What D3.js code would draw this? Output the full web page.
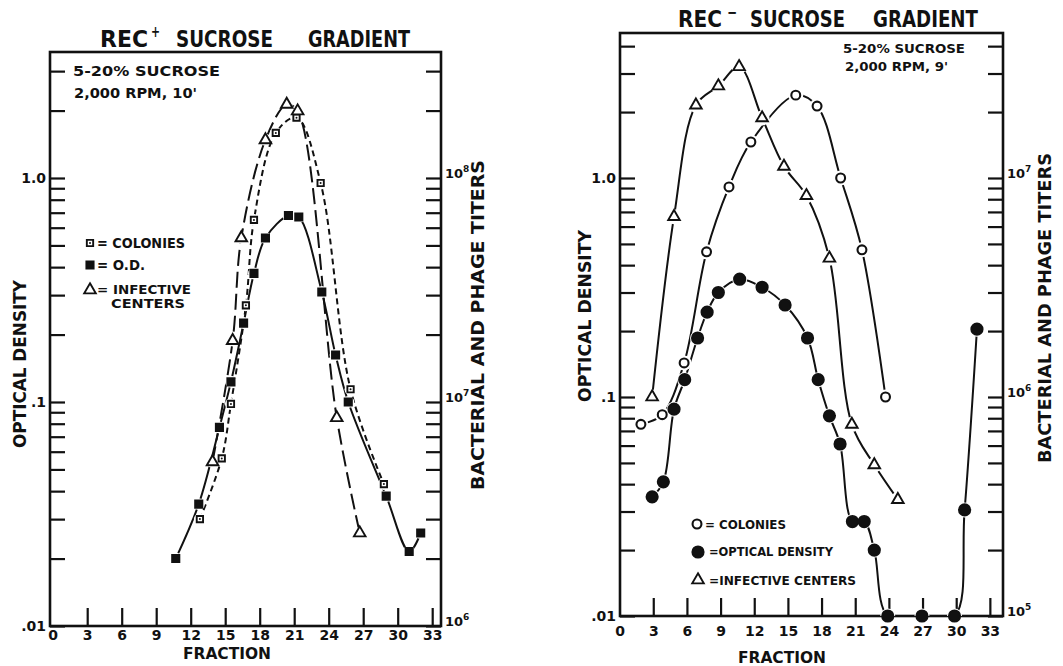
<!DOCTYPE html>
<html lang="en">
<head>
<meta charset="UTF-8">
<title>Rec sucrose gradients</title>
<style>
  body { margin: 0; background: #fff; }
  svg { display: block; }
  text { font-family: "DejaVu Sans", sans-serif; font-weight: bold; fill: #111; }
</style>
</head>
<body>
<script src="https://cdn.jsdelivr.net/npm/d3@7/dist/d3.min.js"></script>
<script>
var fractionTicks = [0, 3, 6, 9, 12, 15, 18, 21, 24, 27, 30, 33];
var odLabels = {1: '1.0', 0.1: '.1', 0.01: '.01'};
var recPlusTiterExp = [8, 7, 6];
var recMinusTiterExp = [7, 6, 5];

// REC+ gradient, [fraction, optical density scale value]
var recPlusColonies = [[12.8, 0.030], [14.7, 0.056], [15.5, 0.098], [16.8, 0.27], [17.5, 0.65],
  [19.4, 1.59], [21.2, 1.86], [23.3, 0.95], [25.9, 0.114], [28.8, 0.043]];
var recPlusOD = [[10.7, 0.020], [12.7, 0.035], [14.5, 0.077], [15.5, 0.123], [16.6, 0.225],
  [17.5, 0.375], [18.5, 0.54], [20.5, 0.68], [21.4, 0.67], [23.4, 0.31], [24.6, 0.162],
  [25.7, 0.10], [29.0, 0.038], [31.0, 0.0215], [32.0, 0.026]];
var recPlusInfective = [[13.9, 0.054], [15.65, 0.188], [16.4, 0.54], [18.5, 1.48], [20.35, 2.13],
  [21.3, 1.99], [24.7, 0.085], [26.7, 0.026]];

// REC- gradient
var recMinusColonies = [[1.9, 0.075], [3.8, 0.083], [5.75, 0.143], [7.75, 0.46], [9.75, 0.91],
  [11.7, 1.46], [15.7, 2.39], [17.6, 2.13], [19.7, 1.0], [21.6, 0.47], [23.7, 0.10]];
var recMinusOD = [[2.9, 0.035], [3.9, 0.041], [4.85, 0.088], [5.8, 0.12], [6.95, 0.186],
  [7.8, 0.244], [8.8, 0.30], [10.7, 0.345], [12.7, 0.317], [14.75, 0.263], [16.75, 0.186],
  [17.7, 0.12], [18.7, 0.082], [19.65, 0.061], [20.75, 0.027], [21.8, 0.027], [22.7, 0.020],
  [23.9, 0.01], [26.95, 0.01], [29.85, 0.01], [30.75, 0.0305], [31.85, 0.204]];
var recMinusInfective = [[2.9, 0.10], [4.85, 0.666], [6.8, 2.15], [8.8, 2.63], [10.65, 3.22],
  [12.7, 1.88], [14.65, 1.13], [16.65, 0.83], [18.7, 0.43], [20.7, 0.075], [22.7, 0.049],
  [24.8, 0.034]];

var W = 1063, H = 666;
var svg = d3.select('body').append('svg').attr('width', W).attr('height', H);

function logTicks(top) {
  var t = [];
  [0.01, 0.1, 1].forEach(function (d) {
    for (var k = 1; k < 10; k++) {
      if (d * k <= top) t.push(+(d * k).toPrecision(3));
    }
  });
  return t;
}

function label(g, str, x, y, size, len, anchor, rotate) {
  var t = g.append('text')
    .attr('x', x).attr('y', y)
    .attr('font-size', size)
    .attr('text-anchor', anchor || 'start')
    .text(str);
  if (len) t.attr('textLength', len).attr('lengthAdjust', 'spacingAndGlyphs');
  if (rotate) t.attr('transform', 'rotate(-90,' + x + ',' + y + ')');
  return t;
}

function marker(g, type, x, y) {
  var s = g.append('path').attr('transform', 'translate(' + x + ',' + y + ')')
    .attr('stroke', '#111').attr('stroke-width', 1.9);
  if (type == 'openSquare') {
    s.attr('d', d3.symbol(d3.symbolSquare, 40)()).attr('fill', '#fff');
    g.append('circle').attr('cx', x).attr('cy', y).attr('r', 1).attr('fill', '#111');
  } else if (type == 'filledSquare') {
    s.attr('d', d3.symbol(d3.symbolSquare, 52)()).attr('fill', '#111');
  } else if (type == 'triangle') {
    s.attr('d', d3.symbol(d3.symbolTriangle, 58)()).attr('fill', '#fff');
  } else if (type == 'openCircle') {
    s.attr('d', d3.symbol(d3.symbolCircle, 62)()).attr('fill', '#fff').attr('stroke-width', 2.1);
  } else if (type == 'filledCircle') {
    s.attr('d', d3.symbol(d3.symbolCircle, 100)()).attr('fill', '#111');
  }
}

function drawPanel(p) {
  var g = svg.append('g');
  var f = p.frame;
  var x = d3.scaleLinear().domain([0, 33]).range(p.xRange);
  var y = d3.scaleLog().domain([0.01, 1]).range(p.yRange);
  var ticks = logTicks(y.invert(f.y0));

  var clipId = 'clip' + p.id;
  g.append('clipPath').attr('id', clipId).append('rect')
    .attr('x', f.x0).attr('y', f.y0).attr('width', f.x1 - f.x0).attr('height', f.y1 - f.y0);

  // axes
  var xa = g.append('g').attr('transform', 'translate(0,' + f.y1 + ')')
    .call(d3.axisBottom(x).tickValues(fractionTicks).tickSize(-18).tickPadding(p.xPad).tickFormat(d3.format('d')));
  var ya = g.append('g').attr('transform', 'translate(' + f.x0 + ',0)')
    .call(d3.axisLeft(y).tickValues(ticks).tickSize(-15).tickPadding(4)
      .tickFormat(function (d) { return odLabels[d] || ''; }));
  var yr = g.append('g').attr('transform', 'translate(' + f.x1 + ',0)')
    .call(d3.axisRight(y).tickValues(ticks).tickSize(-15).tickFormat(''));
  [xa, ya, yr].forEach(function (a) {
    a.select('.domain').remove();
    a.selectAll('line').attr('stroke', '#111').attr('stroke-width', 2.2);
    a.selectAll('text').attr('font-size', 14).attr('fill', '#111')
      .attr('font-family', '"DejaVu Sans", sans-serif').attr('font-weight', 'bold');
  });
  xa.selectAll('.tick').filter(function (d) { return d == 0; }).select('line').remove();

  g.append('rect').attr('x', f.x0).attr('y', f.y0)
    .attr('width', f.x1 - f.x0).attr('height', f.y1 - f.y0)
    .attr('fill', 'none').attr('stroke', '#111').attr('stroke-width', 2.6);

  // titer labels on the right axis
  [1, 0.1, 0.01].forEach(function (d, i) {
    var t = g.append('text').attr('x', f.x1 + 4).attr('y', y(d)).attr('font-size', 13);
    t.append('tspan').text('10');
    t.append('tspan').attr('dy', -6).attr('font-size', 9).text(p.titerExp[i]);
  });

  // curves
  var line = d3.line().x(function (d) { return x(d[0]); }).y(function (d) { return y(d[1]); })
    .curve(d3.curveCatmullRom.alpha(0.5));
  var plot = g.append('g').attr('clip-path', 'url(#' + clipId + ')');
  p.series.forEach(function (s) {
    plot.append('path').attr('d', line(s.data)).attr('fill', 'none')
      .attr('stroke', '#111').attr('stroke-width', 2)
      .attr('stroke-dasharray', s.dash || null);
  });
  p.series.forEach(function (s) {
    s.data.forEach(function (d) {
      plot.append('circle').attr('cx', x(d[0])).attr('cy', y(d[1])).attr('r', p.halo).attr('fill', '#fff');
    });
  });
  p.series.forEach(function (s) {
    s.data.forEach(function (d) { marker(g, s.marker, x(d[0]), y(d[1])); });
  });

  // texts
  p.texts.forEach(function (t) { label(g, t[0], t[1], t[2], t[3], t[4], t[5], t[6]); });
  p.legend.forEach(function (l) { marker(g, l[0], l[1], l[2]); });
}

drawPanel({
  id: 'L',
  frame: {x0: 50, x1: 441, y0: 52, y1: 626},
  xRange: [52.7, 52.7 + 33 * 11.5],
  yRange: [626, 178],
  xPad: 4,
  halo: 6,
  titerExp: recPlusTiterExp,
  series: [
    {data: recPlusColonies, marker: 'openSquare', dash: '6,4'},
    {data: recPlusOD, marker: 'filledSquare'},
    {data: recPlusInfective, marker: 'triangle', dash: '16,6'}
  ],
  texts: [
    ['REC', 100, 47, 23, 48],
    ['+', 151, 37, 16, 9],
    ['SUCROSE', 176, 47, 23, 97],
    ['GRADIENT', 308, 47, 23, 102],
    ['5-20% SUCROSE', 73, 76, 14, 147],
    ["2,000 RPM, 10'", 74, 98, 14, 123],
    ['= COLONIES', 97, 248, 14, 88],
    ['= O.D.', 97, 270, 14, 48],
    ['= INFECTIVE', 97, 294, 12, 94],
    ['CENTERS', 111, 308, 12, 74],
    ['OPTICAL DENSITY', 26, 364, 17, 168, 'middle', true],
    ['BACTERIAL AND PHAGE TITERS', 484, 325, 17, 330, 'middle', true],
    ['FRACTION', 227, 659, 16, 88, 'middle']
  ],
  legend: [['openSquare', 90, 243], ['filledSquare', 90, 265], ['triangle', 90, 290]]
});

drawPanel({
  id: 'R',
  frame: {x0: 620, x1: 1003, y0: 33, y1: 616},
  xRange: [619.6, 619.6 + 33 * 11.22],
  yRange: [616, 178],
  xPad: 10,
  halo: 7.5,
  titerExp: recMinusTiterExp,
  series: [
    {data: recMinusColonies, marker: 'openCircle'},
    {data: recMinusOD, marker: 'filledCircle'},
    {data: recMinusInfective, marker: 'triangle'}
  ],
  texts: [
    ['REC', 678, 27, 23, 44],
    ['\u2212', 727, 18, 16, 10],
    ['SUCROSE', 750, 27, 23, 95],
    ['GRADIENT', 873, 27, 23, 105],
    ['5-20% SUCROSE', 843, 53, 13, 122],
    ["2,000 RPM, 9'", 845, 71, 13, 103],
    ['= COLONIES', 705, 529, 12.5, 81],
    ['=OPTICAL DENSITY', 709, 556, 12.5, 124],
    ['=INFECTIVE  CENTERS', 709, 585, 12.5, 147],
    ['OPTICAL DENSITY', 591, 316, 17, 172, 'middle', true],
    ['BACTERIAL AND PHAGE TITERS', 1051, 308, 17, 310, 'middle', true],
    ['FRACTION', 782, 663, 16, 88, 'middle']
  ],
  legend: [['openCircle', 697, 524], ['filledCircle', 698, 552], ['triangle', 698, 580]]
});
</script>
</body>
</html>
